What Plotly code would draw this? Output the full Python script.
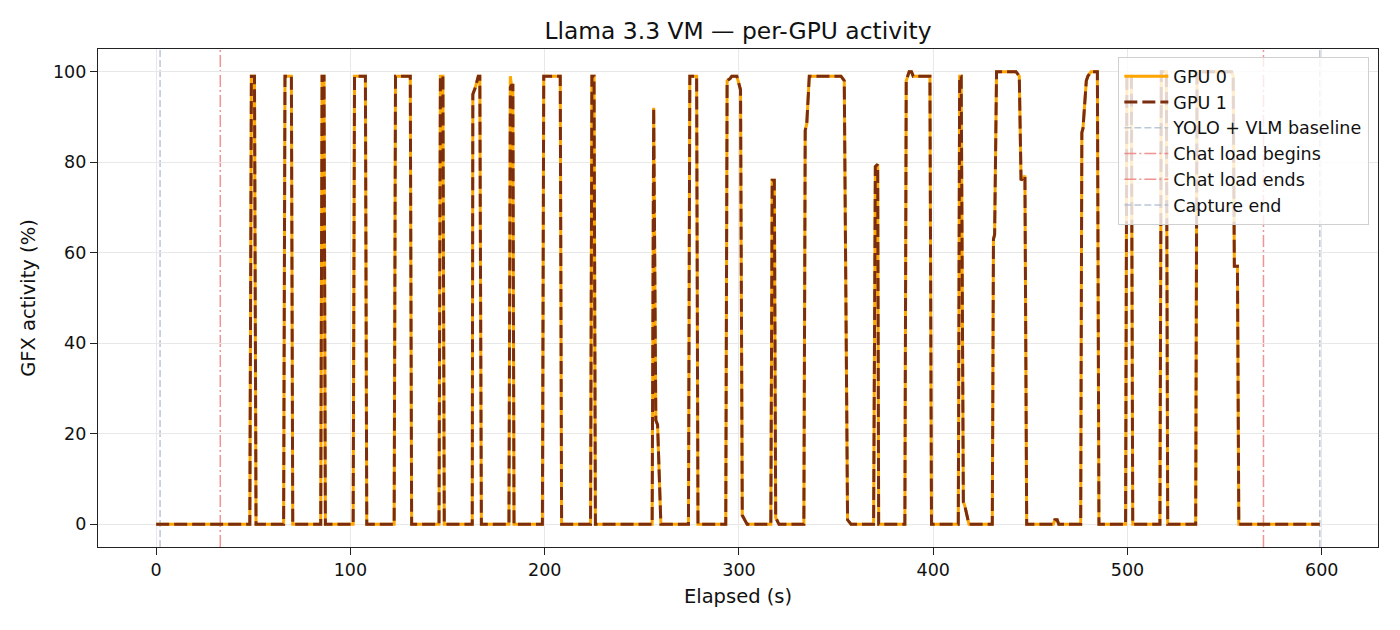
import plotly.graph_objects as go

# sampled GFX activity, elapsed seconds
elapsed_s = [0, 48.2, 49, 50.6, 51.4,
             65.6, 66.3, 69.6, 70.3,
             84.7, 85.4, 86.4, 87.1,
             101.4, 102.1, 107.7, 108.4,
             122.5, 123.2, 130.8, 131.5,
             145.6, 146.3, 147.6, 148.3,
             162.7, 163.0, 164.3, 165.8, 166.6, 167.4,
             181.6, 182.3, 182.9, 183.6, 184.2,
             198.8, 199.5, 208.0, 208.7,
             223.6, 224.3, 225.4, 226.1,
             255.3, 256.1, 257.2, 258.1, 259.8,
             274.0, 274.7, 278.2, 278.9,
             293.2, 293.9, 295.5, 296.3, 298.9, 300.8, 301.7, 304.2,
             316.4, 317.1, 318.2, 318.9, 320.6,
             333.4, 334.1, 334.9, 336.2, 352.5, 354.2, 355.9, 357.7,
             369.3, 370.2, 371.4, 371.9,
             385.4, 386.1, 387.6, 388.8, 389.7, 398.3, 399.1,
             412.9, 413.6, 414.4, 415.5, 416.3, 418.4,
             430.4, 431.0, 431.6, 432.6, 442.6, 444.3, 445.2, 447.2, 448.1,
             461.8, 462.6, 463.8, 464.6,
             475.9, 476.5, 477.1, 478.8, 479.6, 481.2, 484.5, 485.3,
             499.0, 499.7, 502.0, 502.7,
             516.7, 517.4, 520.0, 520.7,
             535.1, 535.8, 553.6, 554.4, 555.0, 556.6, 557.3,
             599]

gpu0_pct = [0, 0, 99, 99, 0,
            0, 99, 99, 0,
            0, 99, 99, 0,
            0, 99, 99, 0,
            0, 99, 99, 0,
            0, 99, 99, 0,
            0, 95, 96.5, 99, 99, 0,
            0, 99, 97, 97, 0,
            0, 99, 99, 0,
            0, 99, 99, 0,
            0, 92, 23, 22, 0,
            0, 99, 99, 0,
            0, 98, 98.5, 99, 99, 96, 2, 0,
            0, 76, 76, 1.5, 0,
            0, 87, 88.5, 99, 99, 98, 1, 0,
            0, 79, 79.5, 0,
            0, 98, 100, 100, 99, 99, 0,
            0, 99, 99, 5, 4, 0,
            0, 63, 64, 100, 100, 99, 76, 77, 0,
            0, 1, 1, 0,
            0, 86.5, 87.5, 98, 99, 100, 100, 0,
            0, 99, 99, 0,
            0, 100, 100, 0,
            0, 100, 100, 99, 57, 57, 0,
            0]

gpu1_pct = [0, 0, 99, 99, 0,
            0, 99, 99, 0,
            0, 99, 99, 0,
            0, 99, 99, 0,
            0, 99, 99, 0,
            0, 99, 99, 0,
            0, 95, 96.5, 99, 99, 0,
            0, 96.5, 97, 97, 0,
            0, 99, 99, 0,
            0, 99, 99, 0,
            0, 92, 23, 22, 0,
            0, 99, 99, 0,
            0, 98, 98.5, 99, 99, 96, 2, 0,
            0, 76, 76, 1.5, 0,
            0, 87, 88.5, 99, 99, 98, 1, 0,
            0, 79, 79.5, 0,
            0, 98, 100, 100, 99, 99, 0,
            0, 99, 99, 5, 4, 0,
            0, 63, 64, 100, 100, 99, 76, 77, 0,
            0, 1, 1, 0,
            0, 86.5, 87.5, 98, 99, 100, 100, 0,
            0, 99, 99, 0,
            0, 100, 100, 0,
            0, 100, 100, 99, 57, 57, 0,
            0]

# markers for the run phases
event_s = [2, 33, 570, 599]
event_names = ['YOLO + VLM baseline', 'Chat load begins', 'Chat load ends', 'Capture end']

FONT = 'DejaVu Sans'
event_styles = [
    dict(color='rgba(170,184,206,0.8)', dash='7px,3px'),
    dict(color='rgba(240,128,128,0.85)', dash='12px,3px,2px,3px'),
    dict(color='rgba(240,128,128,0.85)', dash='12px,3px,2px,3px'),
    dict(color='rgba(170,184,206,0.8)', dash='7px,3px'),
]

fig = go.Figure()
fig.add_trace(go.Scatter(x=elapsed_s, y=gpu0_pct, mode='lines', name='GPU 0',
                         line=dict(color='#FFA500', width=3)))
fig.add_trace(go.Scatter(x=elapsed_s, y=gpu1_pct, mode='lines', name='GPU 1',
                         line=dict(color='#7B2D10', width=3, dash='13px,5px')))

for xs, nm, st in zip(event_s, event_names, event_styles):
    fig.add_vline(x=xs, line=dict(width=1.5, **st), layer='below',
                  name=nm, showlegend=True)

axis_common = dict(
    showline=True, mirror=True, linecolor='#222222', linewidth=1.3,
    ticks='outside', ticklen=7, tickwidth=1.3, tickcolor='#222222',
    showgrid=True, gridcolor='#e8e8e8', gridwidth=1.3, zeroline=False,
    tickfont=dict(family=FONT, size=17.5, color='#111111'),
)

fig.update_xaxes(range=[-29.95, 628.95], dtick=100, tick0=0,
                 title=dict(text='Elapsed (s)', font=dict(family=FONT, size=19.5, color='#111111'),
                            standoff=10),
                 **axis_common)
fig.update_yaxes(range=[-5, 105], dtick=20, tick0=0,
                 title=dict(text='GFX activity (%)', font=dict(family=FONT, size=19.5, color='#111111'),
                            standoff=12),
                 **axis_common)

# page body adds an 8px offset, so margins are shifted to compensate
fig.update_layout(
    width=1400, height=630,
    margin=dict(l=90, r=30, t=41, b=91),
    plot_bgcolor='white', paper_bgcolor='white',
    font=dict(family=FONT, color='#111111'),
    title=dict(text='Llama 3.3 VM \u2014 per-GPU activity', x=0.5, xref='paper',
               y=1 - 23 / 630, yref='container', yanchor='middle',
               font=dict(family=FONT, size=23.4, color='#111111')),
    legend=dict(x=0.993, y=0.984, xanchor='right', yanchor='top',
                bgcolor='rgba(255,255,255,0.8)', bordercolor='#d0d0d0', borderwidth=1.3,
                font=dict(family=FONT, size=17.5, color='#111111'), itemwidth=44),
)

fig.write_html("out.html")
